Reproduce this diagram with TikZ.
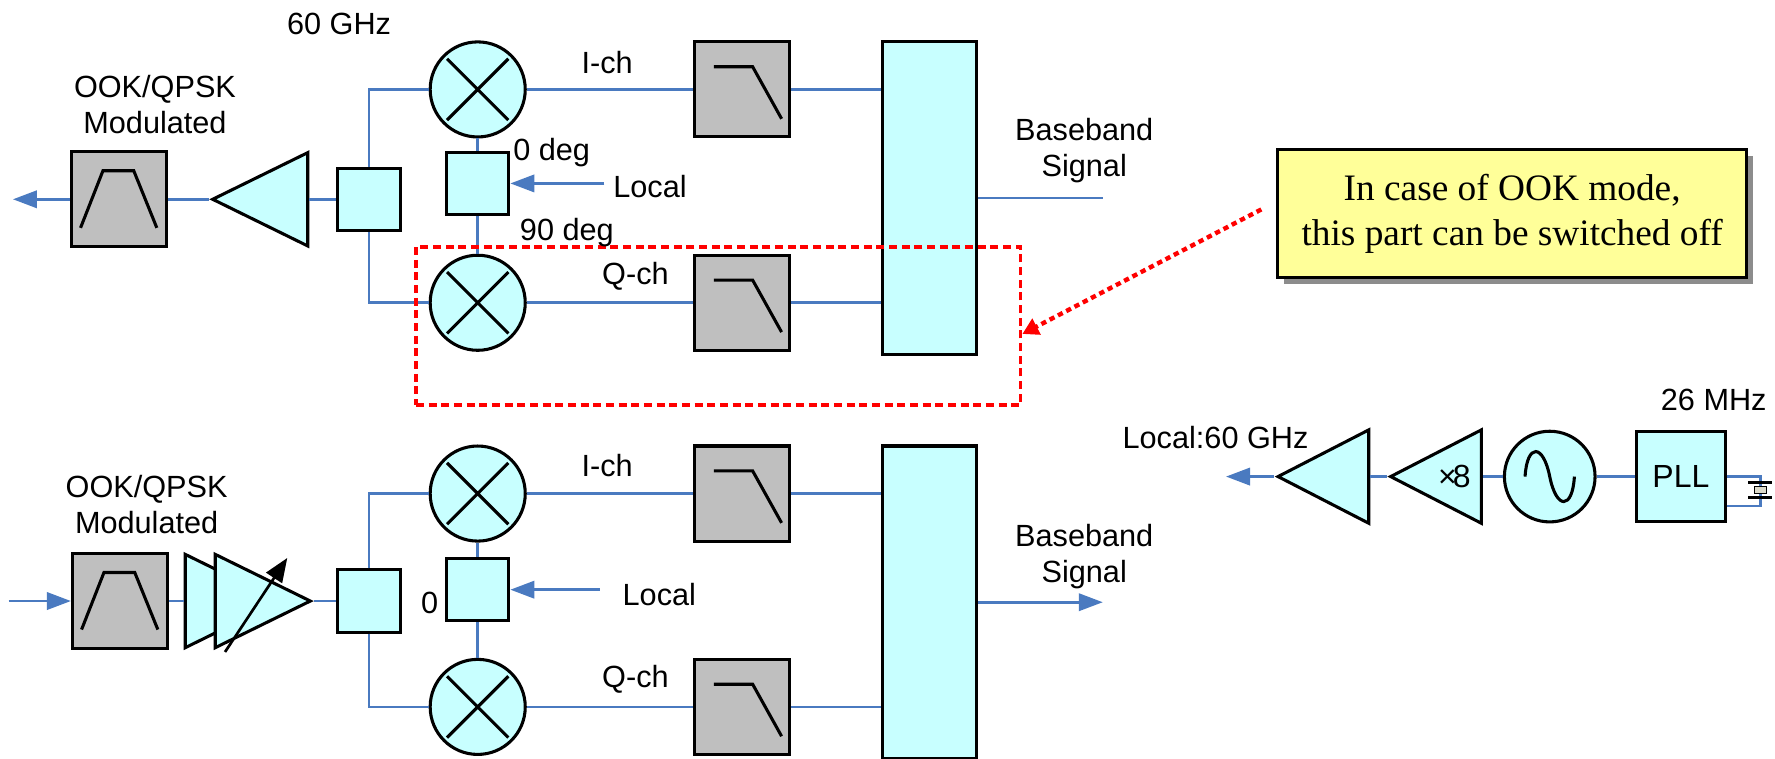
\documentclass[tikz,border=0pt]{standalone}
\usepackage{fontspec}
\setmainfont{Liberation Sans}
\newfontfamily\notefont{Liberation Serif}
\usetikzlibrary{shapes,shapes.geometric,arrows.meta,calc,positioning,shadows}
\definecolor{wireblue}{RGB}{74,122,192}
\definecolor{partcyan}{RGB}{200,255,255}
\definecolor{filtergray}{RGB}{191,191,191}
\definecolor{noteyellow}{RGB}{255,255,153}

\begin{document}
\begin{tikzpicture}[
    x=0.849pt,y=-0.849pt,
    >={Triangle[length=18pt,width=13pt]},
    txt/.style={font=\fontsize{23}{27}\selectfont,align=center,inner sep=0pt},
    wire/.style={draw=wireblue,line width=2pt},
    part/.style={draw,line width=2.3pt,fill=partcyan,inner sep=0pt},
    square/.style={part,rectangle,minimum width=46.7pt,minimum height=46.7pt},
    bank/.style={part,rectangle,minimum width=70.5pt,minimum height=234.3pt},
    mixer/.style={part,circle,minimum size=71.3pt,
      path picture={\draw[line width=2.3pt,shift={(path picture bounding box.center)}]
        (-23pt,-23pt) -- (23pt,23pt) (-23pt,23pt) -- (23pt,-23pt);}},
    amp/.style={part,isosceles triangle,isosceles triangle stretches,
      minimum width=70pt,minimum height=71.3pt},
    ampleft/.style={amp,shape border rotate=180},
    lo/.style={ampleft,minimum width=70pt,minimum height=68pt},
    bpf/.style={part,rectangle,fill=filtergray,minimum width=71.3pt,minimum height=71.3pt,
      path picture={\draw[line width=2.3pt,shift={(path picture bounding box.center)}]
        (-28.8pt,-21.4pt) -- (-12pt,21.4pt) -- (11.1pt,21.4pt) -- (28.4pt,-21.4pt);}},
    lpf/.style={part,rectangle,fill=filtergray,minimum width=71.3pt,minimum height=71.3pt,
      path picture={\draw[line width=2.3pt,shift={(path picture bounding box.center)}]
        (-21pt,17pt) -- (8pt,17pt) -- (29.7pt,-22pt);}},
    osc/.style={part,circle,minimum size=68pt,
      path picture={\draw[line width=2.3pt,shift={(path picture bounding box.center)}]
        (-18.5pt,0pt) .. controls (-17pt,25pt) and (-5pt,25pt) .. (0pt,0pt)
        .. controls (5pt,-25pt) and (17pt,-25pt) .. (18.5pt,0pt);}},
    note/.style={draw,line width=2.3pt,fill=noteyellow,minimum width=352pt,minimum height=96pt,
      align=center,font=\notefont\fontsize{28}{34}\selectfont,
      drop shadow={shadow xshift=4.5pt,shadow yshift=-4.5pt,fill=black!45,opacity=1}},
    xtal/.style={draw,line width=1pt,fill=yellow!20!gray!40,minimum width=9pt,minimum height=5pt,inner sep=0pt},
    redbox/.style={draw=red,line width=2.8pt,dash pattern=on 6pt off 3.5pt,rectangle,
      minimum width=453.4pt,minimum height=118.9pt}]
    \useasboundingbox (0,0) rectangle (1568,670);

    % upper branch
    \node[mixer] (MX1) at (422,79) {};
    \node[square] (LO1) [below=9.2pt of MX1] {};
    \node[mixer] (MX2) [below=28.2pt of LO1] {};
    \node[lpf] (FI1) [right=124.6pt of MX1] {};
    \node[lpf] (FQ1) [right=124.6pt of MX2] {};
    \node[bank] (BB1) [right=67.6pt of FI1.north east,anchor=north west] {};
    \node[square] (SP1) [left=32.6pt of LO1,yshift=-11.9pt] {};
    \node[ampleft] (AM1) [left=20.2pt of SP1] {};
    \node[bpf] (BF1) [left=30.5pt of AM1] {};
    \coordinate[left=116.3pt of BF1.east] (OU1);
    \coordinate[right=70.5pt of LO1] (LI1);
    \coordinate[right=93.4pt of BB1] (BO1);

    % lower branch
    \node[mixer] (MX3) at (422,436) {};
    \node[square] (LO2) [below=10.8pt of MX3] {};
    \node[mixer] (MX4) [below=26.6pt of LO2] {};
    \node[lpf] (FI2) [right=124.6pt of MX3] {};
    \node[lpf] (FQ2) [right=124.6pt of MX4] {};
    \node[bank] (BB2) [right=67.6pt of FI2.north east,anchor=north west] {};
    \node[square] (SP2) [left=32.6pt of LO2,yshift=-8.5pt] {};
    \node[bpf] (BF2) [left=125.4pt of SP2] {};
    \node[amp] (AM3) [right=11pt of BF2,anchor=west] {};
    \node[amp] (AM2) [right=22.5pt of AM3.west,anchor=west] {};
    \coordinate[left=46.7pt of BF2] (IN2);
    \coordinate[right=70.5pt of LO2,xshift=-3.4pt] (LI2);
    \coordinate[right=93.4pt of BB2] (BO2);
    \coordinate (GN1) at ([shift={(8.5pt,-38.2pt)}]AM2.west);
    \coordinate (GN2) at ([shift={(55.2pt,32.3pt)}]AM2.west);

    % local chain
    \node[osc] (OS1) at (1369,421) {};
    \node[part,rectangle,minimum width=66.2pt,minimum height=67.9pt] (PL1) [right=29pt of OS1] {\fontsize{24}{28}\selectfont PLL};
    \node[lo] (AM5) [left=15pt of OS1] {};
    \node[lo] (AM4) [left=12.3pt of AM5] {};
    \coordinate[left=36pt of AM4] (OU4);
    \node[xtal] (XT1) at (1555,433) {};
    \coordinate (PL2) at ([yshift=-22pt]PL1.east);

    % connectors
    \draw[wire,->] (BF1) -- (OU1);
    \draw[wire] (BF1) -- (AM1);
    \draw[wire] (AM1) -- (SP1);
    \draw[wire] (SP1) |- (MX1);
    \draw[wire] (SP1) |- (MX2);
    \draw[wire] (MX1) -- (LO1);
    \draw[wire] (LO1) -- (MX2);
    \draw[wire,->] (LI1) -- (LO1);
    \draw[wire] (MX1) -- (FI1);
    \draw[wire] (MX2) -- (FQ1);
    \draw[wire] (FI1) -- (FI1 -| BB1.west);
    \draw[wire] (FQ1) -- (FQ1 -| BB1.west);
    \draw[wire] (BB1) -- (BO1);

    \draw[wire,->] (IN2) -- (BF2);
    \draw[wire] (BF2) -- (AM3);
    \draw[wire] (AM2) -- (SP2);
    \draw[wire] (SP2) |- (MX3);
    \draw[wire] (SP2) |- (MX4);
    \draw[wire] (MX3) -- (LO2);
    \draw[wire] (LO2) -- (MX4);
    \draw[wire,->] (LI2) -- (LO2);
    \draw[wire] (MX3) -- (FI2);
    \draw[wire] (MX4) -- (FQ2);
    \draw[wire] (FI2) -- (FI2 -| BB2.west);
    \draw[wire] (FQ2) -- (FQ2 -| BB2.west);
    \draw[wire,->] (BB2.east) -- (BO2);
    \draw[line width=2pt,>={Triangle[length=18pt,width=14pt]},->] (GN1) -- (GN2);

    \draw[wire,->] (AM4) -- (OU4);
    \draw[wire] (AM5) -- (AM4);
    \draw[wire] (OS1) -- (AM5);
    \draw[wire] (PL1) -- (OS1);
    \draw[wire] (PL1) -| (XT1);
    \draw[wire] (PL2) -| (XT1);
    \draw[line width=2pt] ([shift={(-9pt,2.5pt)}]XT1.north) -- ([shift={(9pt,2.5pt)}]XT1.north);
    \draw[line width=2pt] ([shift={(-9pt,-2.5pt)}]XT1.south) -- ([shift={(9pt,-2.5pt)}]XT1.south);

    % note and marked part
    \node[note] (YB1) [right=223.3pt of BB1,yshift=-11.9pt] {In case of OOK mode,\\this part can be switched off};
    \node[redbox] (DS1) [xshift=-17.8pt,yshift=-17.4pt] at (FQ1) {};
    \coordinate[left=11pt of YB1,yshift=3.4pt] (CL1);
    \coordinate (CL2) at ([yshift=-6pt]DS1.east);
    \draw[red,line width=3.3pt,dash pattern=on 4pt off 3pt,>={Triangle[length=12pt,width=13pt]},->] (CL1) -- (CL2);

    % labels
    \node[txt] (T1) [left=28pt of MX1,yshift=49pt] {60 GHz};
    \node[txt] (T2) [above=12pt of BF1,xshift=27pt] {OOK/QPSK\\Modulated};
    \node[txt] (T3) [left=45pt of FI1,yshift=20pt] {I-ch};
    \node[txt] (T4) [left=18pt of FQ1,yshift=20pt] {Q-ch};
    \node[txt] (T5) [right=2pt of LO1,yshift=23pt] {0 deg};
    \node[txt] (T6) [right=7pt of LO1,yshift=-37pt] {90 deg};
    \node[txt] (T7) [right=77pt of LO1,yshift=-2pt] {Local};
    \node[txt] (T8) [right=27.5pt of BB1,yshift=35.3pt] {Baseband\\Signal};
    \node[txt] (T9) [above=13.6pt of BF2,xshift=20pt] {OOK/QPSK\\Modulated};
    \node[txt] (T10) [left=45pt of FI2,yshift=20.8pt] {I-ch};
    \node[txt] (T11) [left=18pt of FQ2,yshift=20.8pt] {Q-ch};
    \node[txt] (T12) [right=84pt of LO2,yshift=-3.4pt] {Local};
    \node[txt] (T13) [left=5pt of LO2,yshift=-10pt] {0};
    \node[txt] (T14) [right=27.5pt of BB2,yshift=34pt] {Baseband\\Signal};
    \node[txt] (T15) [above=14pt of PL1,xshift=24.6pt] {26 MHz};
    \node[txt] (T16) [left=-26pt of AM4,yshift=29pt] {Local:60 GHz};
    \node[txt] (T17) [left=9pt of AM5.east] {\fontsize{24}{28}\selectfont ×\kern-3pt 8};
  \end{tikzpicture}
\end{document}
